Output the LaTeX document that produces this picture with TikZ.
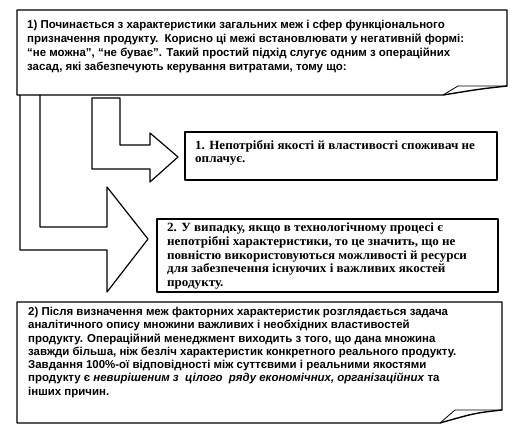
\documentclass[tikz,border=0pt]{standalone}
\usepackage{fontspec}
\setmainfont{Liberation Serif}
\setsansfont{Liberation Sans}
\newfontfamily\punktfont[FakeStretch=1.04]{Liberation Serif}
\newcommand\tightlines{\lineskiplimit-20pt\lineskip0pt\relax}
\begin{document}
\begin{tikzpicture}[x=1bp,y=-1bp,line join=round,
    krok/.style={anchor=north west,align=left,inner sep=0pt,
      font=\sffamily\bfseries\fontsize{11.5}{14}\selectfont\tightlines},
    punkt/.style={anchor=north west,align=left,inner sep=0pt,
      font=\punktfont\bfseries\fontsize{12.6}{13.7}\selectfont\tightlines}]
    \useasboundingbox (0,0) rectangle (519,433);

    % Блок 1
    \draw[line width=1.4pt] (17,10) -- (507,10) -- (507,86)
        .. controls (480,89) .. (443,95) -- (17,95) -- cycle;
    \draw[thick] (443,95) -- (458,86) -- (507,86);
    \node[krok] (krok1) at (27,20) {1) Починається з характеристики загальних меж і сфер функціонального\\
        призначення продукту.\ \ Корисно ці межі встановлювати у негативній формі:\\
        “не можна”, “не буває”. Такий простий підхід слугує одним з операційних\\
        засад, які забезпечують керування витратами, тому що:};

    % Стрілки
    \draw[line width=1.2pt] (20,95) -- (20,250) -- (107,250) -- (107,292) -- (148,239)
        -- (107,187) -- (107,227) -- (40,227) -- (40,95);
    \draw[line width=1.2pt] (92,98) -- (92,169) -- (150,169) -- (150,182) -- (178,157)
        -- (150,133) -- (150,145) -- (120,145) -- (120,98) -- cycle;

    % Пункти
    \draw[line width=1.2pt] (185,132) rectangle (497,180);
    \node[punkt] (punkt1) at (195,140) {1. Непотрібні якості й властивості споживач не\\оплачує.};
    \draw[line width=1.2pt] (157,219) rectangle (498,292);
    \node[punkt] (punkt2) at (167,223) {2. У випадку, якщо в технологічному процесі є\\
        непотрібні характеристики, то це значить, що не\\
        повністю використовуються можливості й ресурси\\
        для забезпечення існуючих і важливих якостей\\
        продукту.};

    % Блок 2
    \draw[line width=1.4pt] (17,302) -- (502,302) -- (502,410)
        .. controls (475,413) .. (440,423) -- (17,423) -- cycle;
    \draw[thick] (440,423) -- (455,410) -- (502,410);
    \node[krok,font=\sffamily\bfseries\fontsize{11.5}{13.3}\selectfont\tightlines] (krok2) at (28,307)
        {2) Після визначення меж факторних характеристик розглядається задача\\
        аналітичного опису множини важливих і необхідних властивостей\\
        продукту. Операційний менеджмент виходить з того, що дана множина\\
        завжди більша, ніж безліч характеристик конкретного реального продукту.\\
        Завдання 100\%-ої відповідності між суттєвими і реальними якостями\\
        продукту є \textit{невирішеним з\ \ цілого\ \ ряду економічних, організаційних} та\\
        інших причин.};
\end{tikzpicture}
\end{document}
